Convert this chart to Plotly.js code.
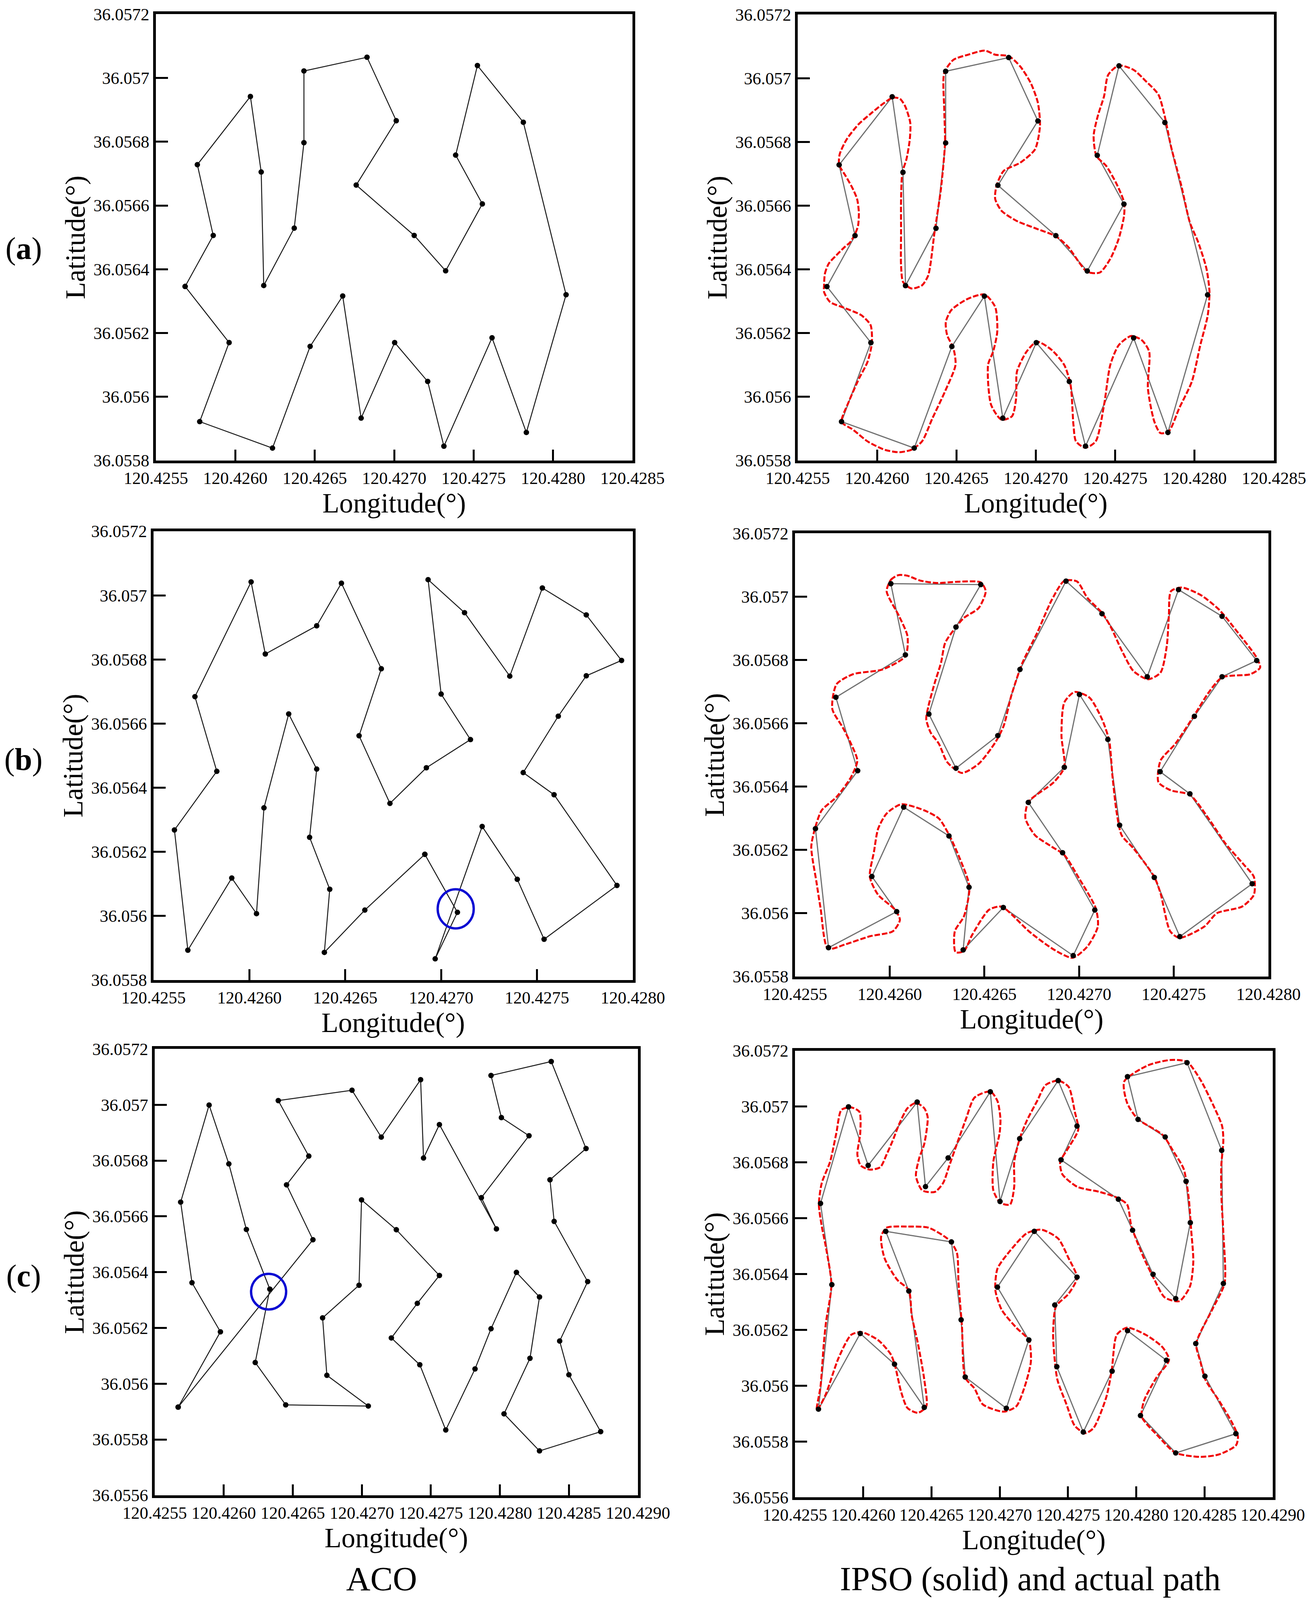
<!DOCTYPE html>
<html><head><meta charset="utf-8">
<script src="https://cdn.plot.ly/plotly-3.0.1.min.js"></script>
<style>html,body{margin:0;padding:0;background:#fff;overflow:hidden}</style></head>
<body><div id="chart"></div>
<script>
const xLabelsA=['120.4255','120.4260','120.4265','120.4270','120.4275','120.4280','120.4285'];
const xLabelsB=['120.4255','120.4260','120.4265','120.4270','120.4275','120.4280'];
const xLabelsC=['120.4255','120.4260','120.4265','120.4270','120.4275','120.4280','120.4285','120.4290'];
const yLabelsAB=['36.0558','36.056','36.0562','36.0564','36.0566','36.0568','36.057','36.0572'];
const yLabelsC=['36.0556','36.0558','36.056','36.0562','36.0564','36.0566','36.0568','36.057','36.0572'];
const captions=['ACO','IPSO (solid) and actual path'];
const rowLabels=['(<b>a</b>)','(<b>b</b>)','(<b>c</b>)'];
const xTitle='Longitude(°)', yTitle='Latitude(°)';

const lonA=[120.425684,120.425861,120.425761,120.426095,120.426163,120.426179,120.426371,120.426432,120.426432,120.426829,120.427013,120.426761,120.427126,120.427324,120.427555,120.427387,120.427524,120.427813,120.428082,120.427832,120.427616,120.427313,120.427211,120.427003,120.426792,120.426676,120.426471,120.426234,120.425776,120.425961];
const latA=[36.056346,36.056506,36.056728,36.056942,36.056705,36.056349,36.056529,36.056797,36.057022,36.057065,36.056866,36.056664,36.056506,36.056395,36.056605,36.056758,36.057039,36.056861,36.056320,36.055888,36.056185,36.055845,36.056048,36.056170,36.055933,36.056316,36.056158,36.055839,36.055922,36.056170];
const redLonA=[120.425666,120.425671,120.425695,120.425743,120.425795,120.425830,120.425861,120.425880,120.425885,120.425874,120.425843,120.425801,120.425761,120.425764,120.425808,120.425882,120.425953,120.426032,120.426098,120.426143,120.426177,120.426209,120.426206,120.426185,120.426159,120.426151,120.426151,120.426151,120.426164,120.426217,120.426283,120.426322,120.426362,120.426402,120.426428,120.426423,120.426423,120.426481,120.426573,120.426678,120.426744,120.426831,120.426902,120.426968,120.427013,120.427026,120.426995,120.426902,120.426797,120.426752,120.426744,120.426784,120.426876,120.427008,120.427126,120.427205,120.427271,120.427324,120.427403,120.427469,120.427522,120.427556,120.427556,120.427509,120.427443,120.427382,120.427364,120.427390,120.427430,120.427456,120.427522,120.427614,120.427693,120.427772,120.427812,120.427851,120.427917,120.427970,120.428023,120.428075,120.428094,120.428083,120.428036,120.427983,120.427904,120.427838,120.427785,120.427746,120.427706,120.427714,120.427667,120.427601,120.427522,120.427469,120.427430,120.427377,120.427311,120.427253,120.427237,120.427219,120.427179,120.427100,120.427008,120.426942,120.426881,120.426876,120.426850,120.426784,120.426718,120.426699,120.426731,120.426757,120.426744,120.426678,120.426573,120.426467,120.426433,120.426441,120.426481,120.426494,120.426428,120.426349,120.426283,120.426217,120.426138,120.426046,120.425940,120.425848,120.425777,120.425822,120.425887,120.425940,120.425967,120.425959,120.425901,120.425795,120.425703,120.425666];
const redLatA=[36.056350,36.056386,36.056418,36.056444,36.056470,36.056485,36.056511,36.056537,36.056579,36.056621,36.056657,36.056694,36.056728,36.056761,36.056808,36.056855,36.056886,36.056918,36.056939,36.056936,36.056912,36.056860,36.056808,36.056746,36.056704,36.056621,36.056517,36.056412,36.056360,36.056340,36.056350,36.056381,36.056517,36.056652,36.056798,36.056902,36.057017,36.057058,36.057074,36.057087,36.057074,36.057069,36.057037,36.056985,36.056923,36.056850,36.056777,36.056735,36.056709,36.056662,36.056621,36.056584,36.056553,36.056527,36.056504,36.056470,36.056423,36.056392,36.056390,36.056433,36.056496,36.056569,36.056610,36.056668,36.056725,36.056756,36.056819,36.056881,36.056944,36.057011,36.057040,36.057027,36.056991,36.056949,36.056881,36.056787,36.056662,36.056548,36.056485,36.056402,36.056329,36.056256,36.056162,36.056048,36.055965,36.055892,36.055886,36.055923,36.056027,36.056142,36.056178,36.056191,36.056162,36.056100,36.055975,36.055860,36.055840,36.055860,36.055912,36.056037,36.056100,36.056147,36.056173,36.056142,36.056079,36.055996,36.055939,36.055928,36.055975,36.056100,36.056142,36.056204,36.056282,36.056321,36.056308,36.056272,36.056235,36.056194,36.056152,36.056100,36.056017,36.055933,36.055860,36.055834,36.055826,36.055834,36.055860,36.055897,36.055921,36.055985,36.056058,36.056110,36.056168,36.056225,36.056256,36.056279,36.056298,36.056329];

const lonBL=[120.426915,120.427085,120.426969,120.427214,120.427397,120.427537,120.427917,120.427589,120.427428,120.427611,120.427757,120.427941,120.427757,120.427528,120.427358,120.427122,120.426932,120.427000,120.427153,120.426923,120.426733,120.426572,120.426688,120.426480,120.426351,120.426083,120.426009,120.425716,120.425830,120.425609,120.425679,120.425908,120.426037,120.426076,120.426205,120.426351,120.426314,120.426419,120.426391,120.426602];
const latBL=[36.056192,36.056011,36.055866,36.056279,36.056114,36.055927,36.056095,36.056378,36.056447,36.056623,36.056749,36.056797,36.056939,36.057023,36.056748,36.056946,36.057049,36.056692,36.056550,36.056462,36.056351,36.056562,36.056771,36.057038,36.056905,36.056817,36.057042,36.056684,36.056451,36.056268,36.055893,36.056118,36.056007,36.056337,36.056630,36.056458,36.056245,36.056083,36.055886,36.056018];
const lonBR=[120.426006,120.426481,120.426350,120.426207,120.426350,120.426571,120.426688,120.426931,120.427121,120.427360,120.427525,120.427755,120.427938,120.427755,120.427609,120.427428,120.427585,120.427914,120.427532,120.427397,120.427214,120.427152,120.427002,120.426922,120.426732,120.426913,120.427083,120.426969,120.426600,120.426388,120.426419,120.426313,120.426074,120.425906,120.426037,120.425677,120.425608,120.425831,120.425716,120.426083];
const latBR=[36.057041,36.057038,36.056904,36.056629,36.056458,36.056561,36.056770,36.057049,36.056946,36.056747,36.057022,36.056938,36.056798,36.056747,36.056622,36.056447,36.056377,36.056093,36.055926,36.056113,36.056278,36.056549,36.056691,36.056461,36.056350,36.056191,36.056010,36.055866,36.056018,36.055884,36.056082,36.056244,36.056335,36.056116,36.056005,36.055891,36.056267,36.056450,36.056682,36.056816];
const redLonB=[120.425984,120.426006,120.426046,120.426094,120.426160,120.426249,120.426359,120.426481,120.426507,120.426470,120.426392,120.426350,120.426293,120.426271,120.426238,120.426205,120.426193,120.426216,120.426260,120.426304,120.426381,120.426470,120.426558,120.426602,120.426642,120.426701,120.426779,120.426856,120.426922,120.426989,120.427044,120.427121,120.427165,120.427231,120.427287,120.427364,120.427430,120.427463,120.427474,120.427485,120.427541,120.427640,120.427739,120.427839,120.427938,120.427956,120.427905,120.427755,120.427684,120.427607,120.427508,120.427430,120.427419,120.427485,120.427585,120.427684,120.427773,120.427872,120.427923,120.427923,120.427861,120.427728,120.427662,120.427530,120.427481,120.427430,120.427397,120.427287,120.427225,120.427198,120.427176,120.427159,120.427121,120.427055,120.426977,120.426922,120.426907,120.426922,120.426867,120.426732,120.426717,120.426768,120.426856,120.426922,120.427000,120.427088,120.427099,120.427044,120.426966,120.426867,120.426735,120.426646,120.426591,120.426525,120.426436,120.426392,120.426348,120.426344,120.426392,120.426421,120.426370,120.426315,120.426260,120.426182,120.426061,120.425984,120.425939,120.425917,120.425895,120.425939,120.426028,120.426054,120.426017,120.425895,120.425763,120.425674,120.425635,120.425613,120.425586,120.425608,120.425641,120.425719,120.425796,120.425829,120.425796,120.425752,120.425697,120.425719,120.425807,120.425962,120.426083,120.426094,120.426050];
const redLatB=[36.057017,36.057053,36.057068,36.057066,36.057051,36.057043,36.057047,36.057045,36.057017,36.056964,36.056933,36.056904,36.056854,36.056791,36.056728,36.056655,36.056613,36.056571,36.056535,36.056477,36.056443,36.056472,36.056540,36.056592,36.056687,36.056791,36.056886,36.056990,36.057050,36.057048,36.056996,36.056949,36.056907,36.056823,36.056765,36.056739,36.056760,36.056844,36.056938,36.057017,36.057029,36.057006,36.056959,36.056886,36.056807,36.056776,36.056755,36.056745,36.056697,36.056624,36.056535,36.056482,36.056414,36.056388,36.056374,36.056299,36.056220,36.056152,36.056115,36.056058,36.056021,36.056000,36.055958,36.055922,36.055943,36.056063,36.056115,36.056205,36.056246,36.056320,36.056435,36.056545,36.056613,36.056681,36.056699,36.056666,36.056561,36.056461,36.056414,36.056351,36.056299,36.056246,36.056210,36.056184,36.056110,36.056016,36.055958,36.055895,36.055859,36.055885,36.055943,36.055995,36.056021,36.056011,36.055932,36.055880,36.055877,36.055943,36.055990,36.056084,36.056173,36.056246,36.056299,36.056325,36.056344,36.056315,36.056267,36.056194,36.056115,36.056058,36.056011,36.055979,36.055943,36.055927,36.055901,36.055888,36.056016,36.056100,36.056210,36.056273,36.056325,36.056367,36.056430,36.056482,36.056535,36.056587,36.056645,36.056723,36.056755,36.056770,36.056812,36.056875,36.056938];

const lonCL=[120.425670,120.425976,120.425770,120.425688,120.425894,120.426037,120.426164,120.426334,120.426228,120.426449,120.427047,120.426747,120.426716,120.426980,120.426998,120.427250,120.427562,120.427402,120.427214,120.427420,120.427608,120.427820,120.427936,120.428120,120.428287,120.428218,120.428030,120.428287,120.428730,120.428500,120.428433,120.428636,120.428393,120.428363,120.428624,120.428372,120.427936,120.428011,120.428211,120.427866,120.427975,120.427562,120.427447,120.427426,120.427141,120.426929,120.426395,120.426616,120.426455,120.426646];
const latCL=[36.055916,36.056186,36.056362,36.056651,36.056999,36.056788,36.056553,36.056339,36.056076,36.055924,36.055920,36.056030,36.056236,36.056353,36.056659,36.056552,36.056388,36.056288,36.056164,36.056068,36.055834,36.056053,36.056197,36.056399,36.056311,36.056091,36.055892,36.055759,36.055828,36.056032,36.056153,36.056366,36.056582,36.056731,36.056843,36.057155,36.057105,36.056954,36.056889,36.056667,36.056555,36.056929,36.056809,36.057090,36.056884,36.057052,36.057015,36.056816,36.056713,36.056516];
const lonCR=[120.425672,120.425770,120.425687,120.425892,120.426036,120.426395,120.426456,120.426622,120.426931,120.427002,120.427146,120.427428,120.427566,120.427449,120.427869,120.427973,120.428123,120.428289,120.428396,120.428365,120.428212,120.428013,120.427936,120.428372,120.428626,120.428638,120.428436,120.428503,120.428730,120.428289,120.428031,120.428221,120.427936,120.427823,120.427612,120.427418,120.427403,120.427566,120.427253,120.426983,120.427213,120.427048,120.426747,120.426717,120.426646,120.426165,120.426334,120.426447,120.426229,120.425978];
const latCR=[36.055916,36.056362,36.056653,36.056999,36.056789,36.057016,36.056713,36.056816,36.057053,36.056660,36.056885,36.057093,36.056930,36.056809,36.056668,36.056557,36.056399,36.056312,36.056584,36.056732,36.056891,36.056954,36.057107,36.057157,36.056843,36.056366,36.056151,36.056034,36.055828,36.055759,36.055893,36.056091,36.056197,36.056052,36.055834,36.056068,36.056289,36.056389,36.056553,36.056353,36.056164,36.055919,36.056031,36.056236,36.056515,36.056553,36.056339,36.055922,36.056077,36.056187];
const redLonC=[120.425659,120.425687,120.425711,120.425727,120.425767,120.425727,120.425696,120.425675,120.425696,120.425757,120.425803,120.425840,120.425911,120.425972,120.425978,120.425957,120.425981,120.426049,120.426125,120.426171,120.426217,120.426263,120.426324,120.426386,120.426447,120.426472,120.426447,120.426410,120.426386,120.426432,120.426524,120.426585,120.426631,120.426686,120.426753,120.426815,120.426931,120.426983,120.427005,120.426999,120.426953,120.426953,120.427005,120.427075,120.427106,120.427106,120.427146,120.427198,120.427274,120.427336,120.427428,120.427504,120.427550,120.427575,120.427504,120.427443,120.427458,120.427566,120.427734,120.427857,120.427933,120.427964,120.428056,120.428133,120.428209,120.428316,120.428393,120.428418,120.428402,120.428384,120.428347,120.428270,120.428194,120.428010,120.427933,120.427912,120.428087,120.428255,120.428372,120.428470,120.428562,120.428629,120.428638,120.428623,120.428623,120.428638,120.428647,120.428562,120.428439,120.428470,120.428506,120.428608,120.428700,120.428745,120.428730,120.428608,120.428470,120.428286,120.428163,120.428041,120.428056,120.428148,120.428240,120.428194,120.428071,120.427933,120.427857,120.427820,120.427780,120.427688,120.427627,120.427550,120.427489,120.427422,120.427397,120.427391,120.427412,120.427504,120.427566,120.427504,120.427428,120.427305,120.427198,120.427075,120.426983,120.426968,120.427014,120.427121,120.427213,120.427228,120.427183,120.427121,120.427029,120.426876,120.426815,120.426747,120.426723,120.426698,120.426686,120.426631,120.426478,120.426324,120.426171,120.426131,120.426156,120.426248,120.426334,120.426355,120.426401,120.426447,120.426462,120.426401,120.426324,120.426278,120.426232,120.426202,120.426110,120.425987,120.425911,120.425819,120.425727,120.425681];
const redLatC=[36.055913,36.055997,36.056150,36.056227,36.056362,36.056495,36.056572,36.056649,36.056726,36.056802,36.056905,36.056988,36.056997,36.056981,36.056905,36.056828,36.056789,36.056774,36.056783,36.056828,36.056879,36.056937,36.056994,36.057013,36.056994,36.056962,36.056866,36.056815,36.056751,36.056700,36.056694,36.056726,36.056789,36.056866,36.056956,36.057032,36.057054,36.057020,36.056956,36.056905,36.056802,36.056700,36.056655,36.056649,36.056713,36.056802,36.056885,36.056949,36.057020,36.057077,36.057093,36.057071,36.056981,36.056917,36.056853,36.056802,36.056758,36.056713,36.056694,36.056674,36.056649,36.056572,36.056457,36.056380,36.056316,36.056303,36.056355,36.056444,36.056559,36.056674,36.056777,36.056841,36.056898,36.056956,36.057013,36.057090,36.057148,36.057167,36.057160,36.057096,36.057007,36.056930,36.056879,36.056789,36.056687,36.056546,36.056367,36.056278,36.056150,36.056086,36.056022,36.055945,36.055869,36.055818,36.055786,36.055754,36.055745,36.055760,36.055818,36.055888,36.055945,36.056029,36.056092,36.056137,36.056182,36.056208,36.056182,36.056054,36.055958,36.055849,36.055830,36.055856,36.055933,36.056022,36.056124,36.056188,36.056284,36.056329,36.056387,36.056457,36.056527,36.056559,36.056546,36.056483,36.056419,36.056342,36.056272,36.056208,36.056163,36.056086,36.055997,36.055926,36.055907,36.055933,36.055990,36.056029,36.056214,36.056367,36.056476,36.056521,36.056566,36.056570,36.056566,36.056534,36.056457,36.056380,36.056342,36.056252,36.056150,36.056022,36.055926,36.055903,36.055920,36.055977,36.056073,36.056112,36.056163,36.056192,36.056182,36.056099,36.055971,36.055926];

const ringLonB=[120.426982,120.427170], ringLatB=[36.055961,36.056083];
const ringLonC=[120.426198,120.426452], ringLatC=[36.056266,36.056394];

// The browser window may be shorter than the reference; lay the figure out in proportion to what is visible.
const REF_W=3361, REF_H=4614;
const W=Math.min(window.innerWidth||REF_W,REF_W), H=Math.min(window.innerHeight||REF_H,REF_H);
const sy=H/REF_H;
const loop=a=>a.concat([a[0]]);
const FONT='Liberation Serif';
const BLACK='#000000', GREY='#707070', RED='#f00000', BLUE='#0a0ad2';

const panels=[
 {box:[399,41,1619,1328],xl:xLabelsA,yl:yLabelsAB,lon:lonA,lat:latA},
 {box:[2042,42,3261,1328],xl:xLabelsA,yl:yLabelsAB,lon:lonA,lat:latA,rlon:redLonA,rlat:redLatA},
 {box:[393,1532,1620,2826],xl:xLabelsB,yl:yLabelsAB,lon:lonBL,lat:latBL,ring:[ringLonB,ringLatB]},
 {box:[2035,1538,3247,2816],xl:xLabelsB,yl:yLabelsAB,lon:lonBR,lat:latBR,rlon:redLonB,rlat:redLatB},
 {box:[396,3025,1633,4312],xl:xLabelsC,yl:yLabelsC,lon:lonCL,lat:latCL,ring:[ringLonC,ringLatC]},
 {box:[2035,3030,3258,4318],xl:xLabelsC,yl:yLabelsC,lon:lonCR,lat:latCR,rlon:redLonC,rlat:redLatC}
];

const layout={width:W,height:H,margin:{l:0,r:0,t:0,b:0},paper_bgcolor:'#fff',plot_bgcolor:'#fff',
  showlegend:false,font:{family:FONT,color:BLACK},shapes:[],annotations:[]};
const traces=[];
panels.forEach((p,i)=>{
  const n=i?String(i+1):'';
  const xa='x'+n, ya='y'+n;
  const common={showgrid:false,zeroline:false,showline:true,linecolor:BLACK,linewidth:7,mirror:true,
    ticks:'inside',tickwidth:5,tickcolor:BLACK,automargin:false,tickangle:0};
  layout['xaxis'+n]=Object.assign({},common,{domain:[p.box[0]/REF_W,p.box[2]/REF_W],anchor:ya,ticklen:28,
    range:[+p.xl[0],+p.xl[p.xl.length-1]],tickmode:'array',tickvals:p.xl.map(Number),ticktext:p.xl,
    tickfont:{family:FONT,size:44,color:BLACK},ticklabelstandoff:0,
    title:{text:xTitle,font:{family:FONT,size:71,color:BLACK},standoff:4}});
  layout['yaxis'+n]=Object.assign({},common,{domain:[1-p.box[3]/REF_H,1-p.box[1]/REF_H],anchor:xa,ticklen:31,
    range:[+p.yl[0],+p.yl[p.yl.length-1]],tickmode:'array',tickvals:p.yl.map(Number),ticktext:p.yl,
    tickfont:{family:FONT,size:44,color:BLACK},ticklabelstandoff:1,
    title:{text:yTitle,font:{family:FONT,size:Math.round(81*sy),color:BLACK},standoff:0}});
  const x=loop(p.lon), y=loop(p.lat);
  if(p.rlon){
    traces.push({type:'scatter',mode:'lines',x,y,xaxis:xa,yaxis:ya,line:{color:GREY,width:3},hoverinfo:'skip'});
    traces.push({type:'scatter',mode:'lines',x:loop(p.rlon),y:loop(p.rlat),xaxis:xa,yaxis:ya,
      line:{color:RED,width:5,dash:'14px,5px',shape:'spline',smoothing:0.7},hoverinfo:'skip'});
    traces.push({type:'scatter',mode:'markers',x:p.lon,y:p.lat,xaxis:xa,yaxis:ya,marker:{color:BLACK,size:14}});
  } else {
    traces.push({type:'scatter',mode:'lines+markers',x,y,xaxis:xa,yaxis:ya,
      line:{color:'#1a1a1a',width:2.5},marker:{color:BLACK,size:14}});
  }
  if(p.ring){
    layout.shapes.push({type:'circle',xref:xa,yref:ya,x0:p.ring[0][0],x1:p.ring[0][1],y0:p.ring[1][0],y1:p.ring[1][1],
      line:{color:BLUE,width:6}});
  }
});
const rowY=[717,2190,3680];
rowLabels.forEach((t,i)=>layout.annotations.push({xref:'paper',yref:'paper',x:60/REF_W,y:1-rowY[i]/REF_H,text:t,showarrow:false,
  xanchor:'center',yanchor:'middle',font:{family:FONT,size:80,color:BLACK}}));
[977,2637].forEach((cx,i)=>layout.annotations.push({xref:'paper',yref:'paper',x:cx/REF_W,y:1-4553/REF_H,text:captions[i],showarrow:false,
  xanchor:'center',yanchor:'middle',font:{family:FONT,size:86,color:BLACK}}));
Plotly.newPlot('chart',traces,layout,{staticPlot:true,displayModeBar:false});
</script></body></html>
